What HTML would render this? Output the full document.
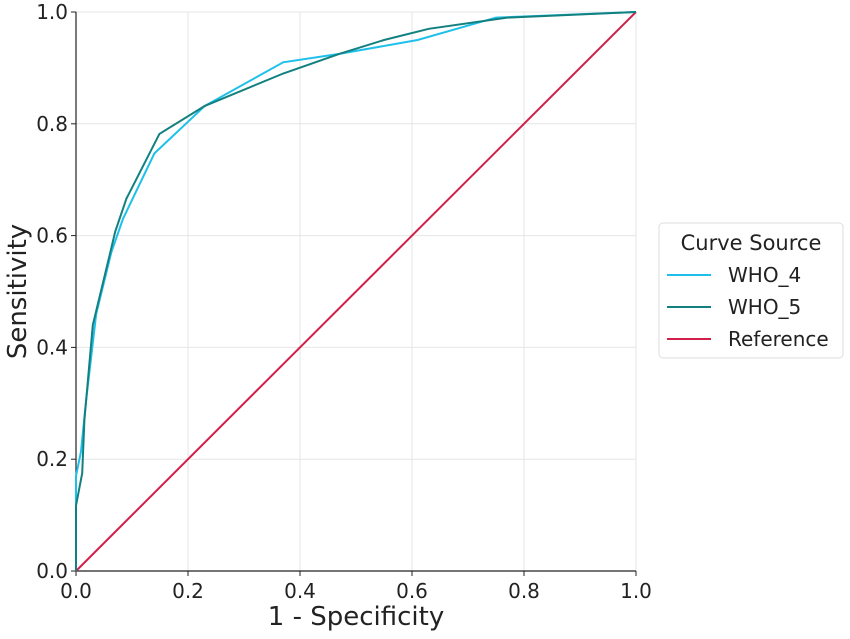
<!DOCTYPE html>
<html><head><meta charset="utf-8"><style>
body{margin:0;background:#fff;font-family:"DejaVu Sans","Liberation Sans",sans-serif}
svg text{font-family:"DejaVu Sans","Liberation Sans",sans-serif;fill:#222}
</style></head><body>
<svg id="c" width="850" height="635"></svg>
<script>
const xTicks=[0,0.2,0.4,0.6,0.8,1.0];
const yTicks=[0,0.2,0.4,0.6,0.8,1.0];
const tickLabels=["0.0","0.2","0.4","0.6","0.8","1.0"];
const who4FPR=[0,0,0.009,0.018,0.036,0.063,0.084,0.14,0.23,0.37,0.47,0.61,0.75,1];
const who4TPR=[0,0.17,0.214,0.305,0.46,0.57,0.63,0.747,0.832,0.91,0.925,0.95,0.99,1];
const who5FPR=[0,0,0.011,0.015,0.03,0.06,0.07,0.09,0.149,0.23,0.37,0.47,0.55,0.63,0.77,1];
const who5TPR=[0,0.117,0.175,0.27,0.44,0.565,0.607,0.666,0.782,0.832,0.89,0.925,0.95,0.97,0.99,1];
const refFPR=[0,1];
const refTPR=[0,1];
const NS="http://www.w3.org/2000/svg";
const svg=document.getElementById('c');
const X0=76,X1=636,Y0=571,Y1=12;
const sx=v=>X0+v*(X1-X0), sy=v=>Y0-v*(Y0-Y1);
function mk(t,a,p){const e=document.createElementNS(NS,t);for(const k in a)e.setAttribute(k,a[k]);(p||svg).appendChild(e);return e;}
xTicks.forEach((v,i)=>{
 const g=mk('line',{x1:sx(v),x2:sx(v),y1:Y1,y2:Y0,stroke:'#e6e6e6','stroke-width':1});
 
 
 mk('line',{x1:sx(v),x2:sx(v),y1:Y0,y2:Y0+5,stroke:'#222'});
 const t=mk('text',{x:sx(v),y:Y0+27,'text-anchor':'middle','font-size':20});
 t.textContent=tickLabels[i];
 
 
});
yTicks.forEach((v,i)=>{
 const g=mk('line',{x1:X0,x2:X1,y1:sy(v),y2:sy(v),stroke:'#e6e6e6','stroke-width':1});
 
 
 mk('line',{x1:X0-5,x2:X0,y1:sy(v),y2:sy(v),stroke:'#222'});
 const t=mk('text',{x:X0-8,y:sy(v)+7,'text-anchor':'end','font-size':20});
 t.textContent=tickLabels[i];
 
 
});
const ax=mk('path',{d:`M${X0} ${Y1}V${Y0}H${X1}`,fill:'none',stroke:'#222','stroke-width':1.2});


function line(xs,ys,col,name){
 const d=xs.map((v,i)=>(i?'L':'M')+sx(v).toFixed(1)+' '+sy(ys[i]).toFixed(1)).join('');
 const p=mk('path',{d:d,fill:'none',stroke:col,'stroke-width':2});
 
 
}
line(refFPR,refTPR,'#d0204a','reference-line');
line(who4FPR,who4TPR,'#1ec0ea','who4-curve');
line(who5FPR,who5TPR,'#138080','who5-curve');
const xl=mk('text',{x:(X0+X1)/2,y:625,'text-anchor':'middle','font-size':26});
xl.textContent='1 - Specificity';


const yl=mk('text',{x:0,y:0,'text-anchor':'middle','font-size':26,transform:`translate(26 ${(Y0+Y1)/2}) rotate(-90)`});
yl.textContent='Sensitivity';


const lg=mk('g',{});


mk('rect',{x:659,y:223,width:184,height:135,rx:4,fill:'#fff',stroke:'#ddd'},lg);
const lt=mk('text',{x:751,y:250,'text-anchor':'middle','font-size':21},lg);
lt.textContent='Curve Source';
[['WHO_4','#1ec0ea'],['WHO_5','#138080'],['Reference','#d0204a']].forEach((e,i)=>{
 const y=281+i*32;
 const g=mk('g',{},lg);
 
 
 mk('line',{x1:667,x2:711,y1:y-6,y2:y-6,stroke:e[1],'stroke-width':2},g);
 const t=mk('text',{x:728,y:y+1,'font-size':20},g);
 t.textContent=e[0];
});
</script>
</body></html>
